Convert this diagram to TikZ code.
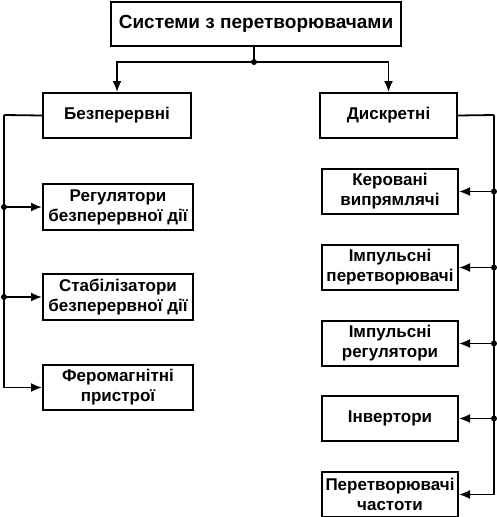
\documentclass[tikz,border=0pt]{standalone}
\usepackage{fontspec}
\setmainfont{Liberation Sans}
\usetikzlibrary{arrows.meta}
\begin{document}
\begin{tikzpicture}[x=1pt,y=-1pt,
  box/.style={draw,line width=2pt,inner sep=0pt,anchor=north west,align=center,font=\bfseries\fontsize{17}{20}\selectfont},
  conn/.style={line width=1.8pt},
  arr/.style={conn,-{Latex[length=11pt,width=9pt]}},
  dot/.style={circle,fill,inner sep=0pt,minimum size=6pt}]
\useasboundingbox (0,0) rectangle (497,517);
\node[box,minimum width=290pt,minimum height=44pt,font=\bfseries\fontsize{19}{22}\selectfont] (top) at (110,1) {Системи з перетворювачами};
\node[box,minimum width=148pt,minimum height=45pt] (bez) at (42,92) {Безперервні};
\node[box,minimum width=137pt,minimum height=45pt] (dys) at (319,92) {Дискретні};
\node[box,minimum width=150pt,minimum height=46pt] (l1) at (42,183) {Регулятори\\безперервної дії};
\node[box,minimum width=150pt,minimum height=46pt] (l2) at (42,273) {Стабілізатори\\безперервної дії};
\node[box,minimum width=150pt,minimum height=45pt] (l3) at (42,364) {Феромагнітні\\пристрої};
\node[box,minimum width=136pt,minimum height=45pt] (r1) at (321,168) {Керовані\\випрямлячі};
\node[box,minimum width=136pt,minimum height=45pt] (r2) at (321,244) {Імпульсні\\перетворювачі};
\node[box,minimum width=136pt,minimum height=45pt] (r3) at (321,320) {Імпульсні\\регулятори};
\node[box,minimum width=136pt,minimum height=45pt] (r4) at (321,395) {Інвертори};
\node[box,minimum width=136pt,minimum height=45pt] (r5) at (321,471) {Перетворювачі\\частоти};
% top split
\coordinate (j) at (254,62);
\draw[conn] (j |- top.south) -- (j);
\draw[arr] (j) -| (bez.north);
\draw[arr] (j) -| (dys.north);
\node[dot] at (j) {};
% left bus
\coordinate (lb) at (4,115);
\draw[conn] (bez.west) -- (lb);
\draw[arr] (lb) |- (l3.west);
\draw[arr] (lb |- l1.west) -- (l1.west);
\draw[arr] (lb |- l2.west) -- (l2.west);
\node[dot] at (lb |- l1.west) {};
\node[dot] at (lb |- l2.west) {};
% right bus
\coordinate (rb) at (494,115);
\draw[conn] (dys.east) -- (rb);
\draw[arr] (rb) |- (r5.east);
\foreach \n in {r1,r2,r3,r4}{
  \draw[arr] (rb |- \n.east) -- (\n.east);
  \node[dot] at (rb |- \n.east) {};
}
\end{tikzpicture}
\end{document}
